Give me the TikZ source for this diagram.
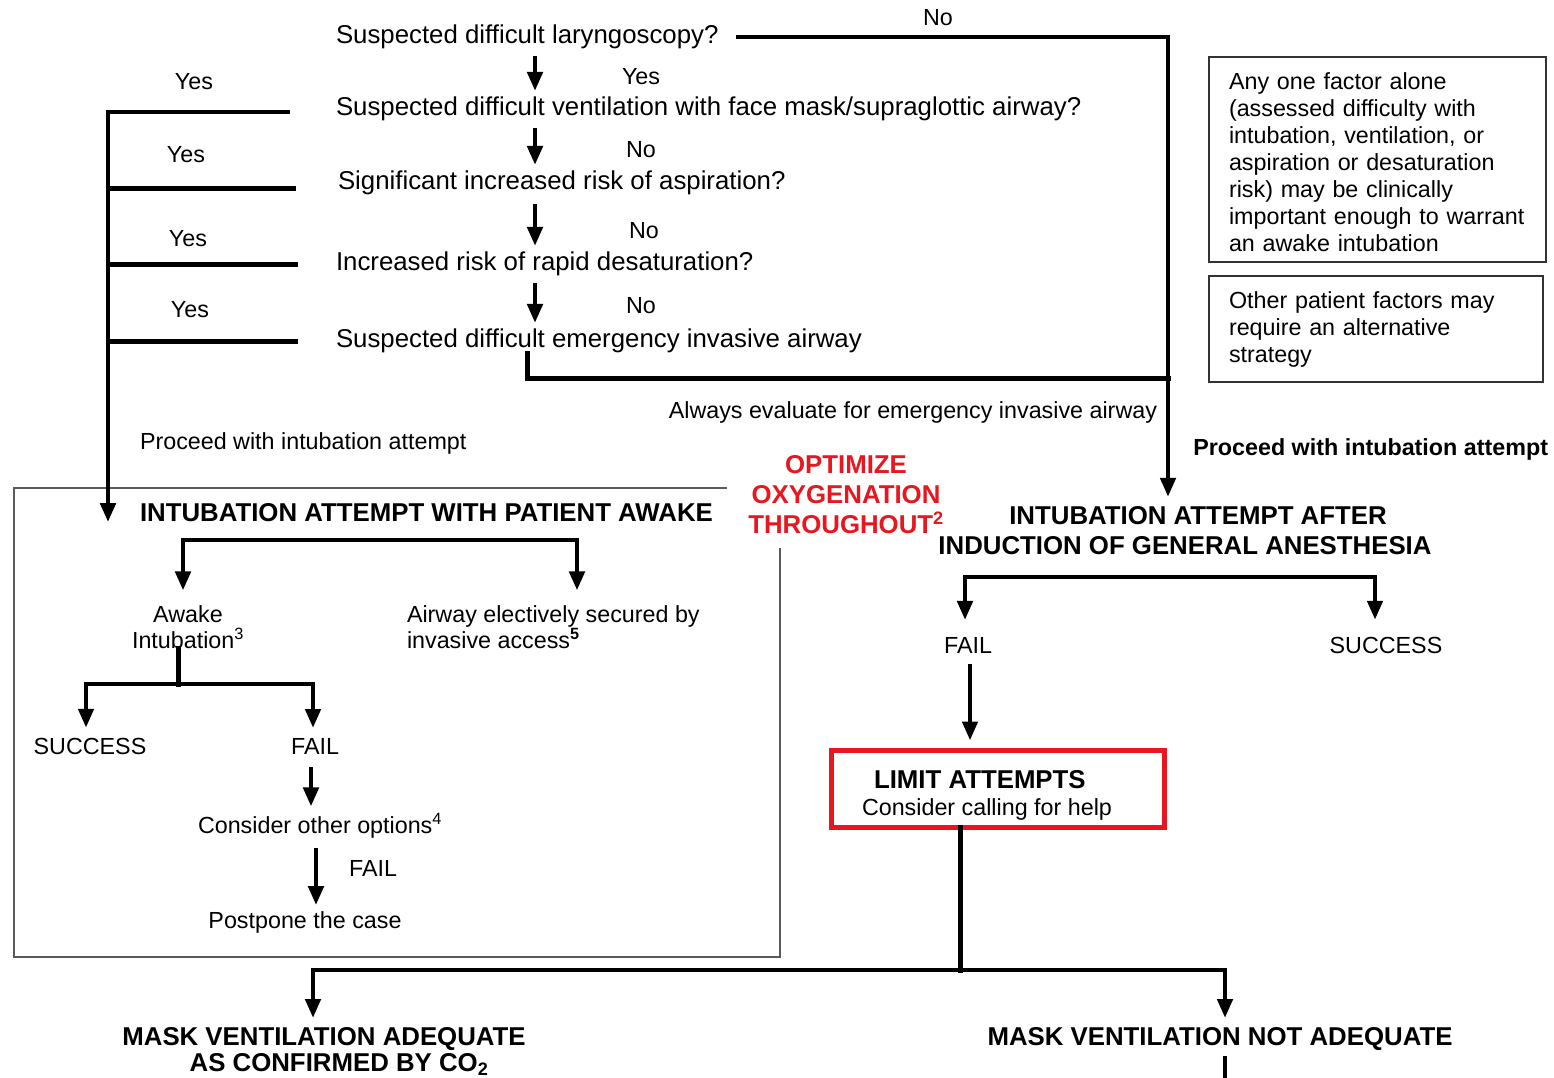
\documentclass[tikz,border=0pt]{standalone}
\usepackage{fontspec}
\setmainfont{Liberation Sans}
\usetikzlibrary{arrows.meta}
\definecolor{limred}{RGB}{232,22,30}
\definecolor{framegray}{RGB}{90,90,90}
\tikzset{
  big/.style={font=\fontsize{25.8}{30}\selectfont, inner sep=0pt, outer sep=0pt},
  small/.style={font=\fontsize{23.3}{26}\selectfont, inner sep=0pt, outer sep=0pt},
  bigb/.style={font=\fontsize{25.8}{30}\selectfont\bfseries, inner sep=0pt, outer sep=0pt},
  smallb/.style={font=\fontsize{23.3}{26}\selectfont\bfseries, inner sep=0pt, outer sep=0pt},
  conn/.style={line width=5pt, line cap=rect},
  arr/.style={line width=4.6pt, -{Triangle[width=15pt,length=19pt]}},
  arrtwo/.style={line width=4.6pt, {Triangle[width=15pt,length=19pt]}-{Triangle[width=15pt,length=19pt]}},
  frame/.style={draw=framegray, line width=1.6pt},
  infobox/.style={draw=black!80, line width=1.6pt, font=\fontsize{23.3}{27}\selectfont,
    align=left, inner xsep=20pt, inner ysep=0pt, outer sep=0pt},
}
\begin{document}
\begin{tikzpicture}[x=1pt,y=-1pt]
\useasboundingbox (0,0) rectangle (1554,1077);
\fill[white] (0,0) rectangle (1554,1077);

% axes
\coordinate (xq) at (535,0);
\coordinate (xs) at (527,0);
\coordinate (xr) at (1168,0);
\coordinate (xl) at (108,0);

% questions
\node[big,anchor=west] (q1) at (336,37) {Suspected difficult laryngoscopy?};
\node[big,anchor=west] (q2) at (336,109) {Suspected difficult ventilation with face mask/supraglottic airway?};
\node[big,anchor=west] (q3) at (338,183) {Significant increased risk of aspiration?};
\node[big,anchor=west] (q4) at (336,264) {Increased risk of rapid desaturation?};
\node[big,anchor=west] (q5) at (336,341) {Suspected difficult emergency invasive airway};

\draw[arr, shorten <=7pt, shorten >=6pt] (q1.south -| xq) -- (q2.north -| xq);
\draw[arr, shorten <=7pt, shorten >=6pt] (q2.south -| xq) -- (q3.north -| xq);
\draw[arr, shorten <=9pt, shorten >=6pt] (q3.south -| xq) -- (q4.north -| xq);
\draw[arr, shorten <=7pt, shorten >=6pt] (q4.south -| xq) -- (q5.north -| xq);

\node[small] (lyes1) at (641,77) {Yes};
\node[small] (lno1) at (641,150) {No};
\node[small] (lno2) at (644,231) {No};
\node[small] (lno3) at (641,306) {No};
\node[small] (lno0) at (938,18) {No};

% left Yes branches
\node[small] (ly2) at (194,82) {Yes};
\node[small] (ly3) at (186,155) {Yes};
\node[small] (ly4) at (188,239) {Yes};
\node[small] (ly5) at (190,310) {Yes};
\coordinate (y2e) at (290,112);
\coordinate (y3e) at (293,188);
\coordinate (y4e) at (295,264);
\coordinate (y5e) at (295,341);

\node[small,anchor=west] (proc1) at (140,443) {Proceed with intubation attempt};
\node[small,anchor=east] (always) at (1157,412) {Always evaluate for emergency invasive airway};

% right info boxes
\node[infobox, anchor=north west, minimum width=337pt, minimum height=205pt, text width=297pt] (f1) at (1209,57)
 {\rule{0pt}{23pt}Any one factor alone\\(assessed difficulty with\\intubation, ventilation, or\\aspiration or desaturation\\risk) may be clinically\\important enough to warrant\\an awake intubation};
\node[infobox, anchor=north west, minimum width=334pt, minimum height=106pt, text width=294pt] (f2) at (1209,276)
 {Other patient factors may\\require an alternative\\strategy};

\node[smallb,anchor=east] (proc2) at (1548,449) {Proceed with intubation attempt};

% awake frame
\draw[frame] (727,488) -- (14,488) -- (14,957) -- (780,957) -- (780,548);

\node[bigb, text=limred, align=center] (opt) at (846,495) {OPTIMIZE\\OXYGENATION\\THROUGHOUT\textsuperscript{2}};

\node[bigb,anchor=west] (aw) at (140,513) {INTUBATION ATTEMPT WITH PATIENT AWAKE};
\node[small, align=center] (awk) at (188,627) {Awake\\Intubation\textsuperscript{3}};
\node[small, align=left, anchor=west] (ael) at (407,627) {Airway electively secured by\\invasive access\textsuperscript{\bfseries 5}};
\node[small] (suc1) at (90,746) {SUCCESS};
\node[small] (fail1) at (315,746) {FAIL};
\node[small] (cons) at (320,826) {Consider other options\textsuperscript{4}};
\node[small] (failb) at (373,868) {FAIL};
\node[small] (postp) at (305,922) {Postpone the case};

% right main column
\node[bigb] (ia) at (1198,516) {INTUBATION ATTEMPT AFTER};
\node[bigb] (ib) at (1185,546) {INDUCTION OF GENERAL ANESTHESIA};
\node[small] (fail2) at (968,645) {FAIL};
\node[small] (suc2) at (1386,645) {SUCCESS};
\node[draw=limred, line width=5pt, minimum width=333pt, minimum height=77pt, inner sep=0pt, outer sep=0pt] (lim) at (998,789) {};
\node[bigb,anchor=west] (limt) at (874,780) {LIMIT ATTEMPTS};
\node[small,anchor=west] (limc) at (862,809) {Consider calling for help};

\node[bigb, anchor=north] (mva) at (324,1027) {MASK VENTILATION ADEQUATE};
\node[bigb, anchor=north] (mvb) at (339,1053) {AS CONFIRMED BY CO\textsubscript{2}};
\node[bigb, anchor=north] (mvn) at (1220,1027) {MASK VENTILATION NOT ADEQUATE};

% ---- connectors ----
% No branch
\draw[arr, shorten >=10pt] ([xshift=18pt]q1.east) -| (ia.north -| xr);
\coordinate (jn) at (1168,378);
\draw[conn] (q5.south -| xs) |- (jn);

% Yes branches to awake
\draw[arr] (y2e) -| (xl |- aw.south);
\draw[conn] (y3e) -- (y3e -| xl);
\draw[conn] (y4e) -- (y4e -| xl);
\draw[conn] (y5e) -- (y5e -| xl);

% awake split
\coordinate (k1) at (183,540);
\coordinate (k2) at (577,540);
\draw[arrtwo, shorten <=15pt, shorten >=15pt] (k1 |- awk.north) -- (k1) -- (k2) -- (k2 |- ael.north);

\coordinate (s1) at (178,684);
\coordinate (sL) at (86,684);
\coordinate (sR) at (313,684);
\draw[conn] (awk.south -| s1) -- (s1);
\draw[arrtwo, shorten <=10pt, shorten >=10pt] (suc1.north -| sL) -- (sL) -- (sR) -- (fail1.north -| sR);

\coordinate (xc1) at (311,0);
\coordinate (xc2) at (316,0);
\draw[arr, shorten <=13pt, shorten >=7pt] (fail1.south -| xc1) -- (cons.north -| xc1);
\draw[arr, shorten <=9pt, shorten >=6pt] (cons.south -| xc2) -- (postp.north -| xc2);

% general anesthesia split
\coordinate (r1) at (965,577);
\coordinate (r2) at (1375,577);
\draw[arrtwo, shorten <=17pt, shorten >=17pt] (fail2.north -| r1) -- (r1) -- (r2) -- (suc2.north -| r2);

\coordinate (xf) at (970,0);
\draw[arr, shorten <=11pt, shorten >=10pt] (fail2.south -| xf) -- (lim.north -| xf);

\coordinate (m0) at (960,970);
\coordinate (mL) at (313,970);
\coordinate (mR) at (1225,970);
\draw[conn] (lim.south -| m0) -- (m0);
\draw[arrtwo, shorten <=9pt, shorten >=9pt] (mva.north -| mL) -- (mL) -- (mR) -- (mvn.north -| mR);

\coordinate (bend) at (1225,1115);
\draw[arr, shorten <=6pt] (mvn.south -| mR) -- (bend);
\end{tikzpicture}
\end{document}
